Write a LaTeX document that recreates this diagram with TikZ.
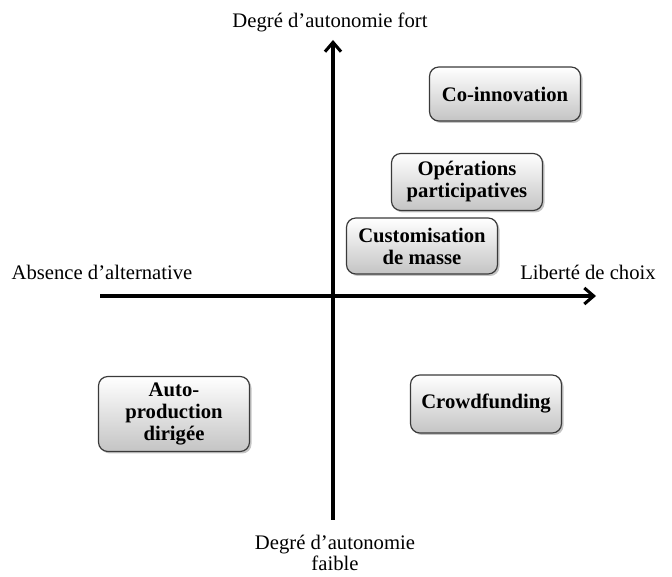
\documentclass[tikz,border=0pt]{standalone}
\usepackage{fontspec}
\setmainfont{Liberation Serif}
\usepackage{tikz}
\usetikzlibrary{arrows.meta, shadows}
\definecolor{BoxLine}{HTML}{3A3A3A}
\definecolor{BoxLow}{HTML}{C4C4C4}

\begin{document}
\begin{tikzpicture}[x=0.75pt, y=-0.75pt,
  box/.style={draw=BoxLine, line width=0.9pt, rounded corners=7pt, top color=white, bottom color=BoxLow, minimum width=151*0.75pt, align=center, inner sep=2pt, font=\fontsize{15.5}{16.5}\selectfont\bfseries, drop shadow={shadow xshift=1.5pt, shadow yshift=-1.5pt, fill=black!45}},
  lab/.style={align=center, inner sep=0pt, font=\fontsize{15.5}{16}\selectfont},
  axis/.style={line width=2.3pt, -{Straight Barb[length=7pt, width=12pt, line width=2.3pt]}}
]
  \useasboundingbox (0,0) rectangle (672,577);

  \coordinate (bottom) at (333,520);
  \coordinate (top) at (333,40);
  \coordinate (left) at (100,296);
  \coordinate (right) at (596,296);
  \draw[axis] (left) -- (right);
  \draw[axis] (bottom) -- (top);

  \node[lab] (high) at (330,22) {Degré d'autonomie fort};
  \node[lab] (low) at (335,553) {Degré d'autonomie\\faible};
  \node[lab] (none) at (102,272) {Absence d'alternative};
  \node[lab] (free) at (588,272) {Liberté de choix};

  \node[box, minimum height=54*0.75pt] (coinno) at (505,94) {Co-innovation};
  \node[box, minimum height=57*0.75pt] (operations) at (467,182) {Opérations\\participatives};
  \node[box, minimum height=56*0.75pt] (custom) at (422,246) {Customisation\\de masse};
  \node[box, minimum height=75*0.75pt] (autoprod) at (174,414) {Auto-\\production\\dirigée};
  \node[box, minimum height=58*0.75pt] (crowd) at (486,404) {Crowdfunding};
\end{tikzpicture}
\end{document}
